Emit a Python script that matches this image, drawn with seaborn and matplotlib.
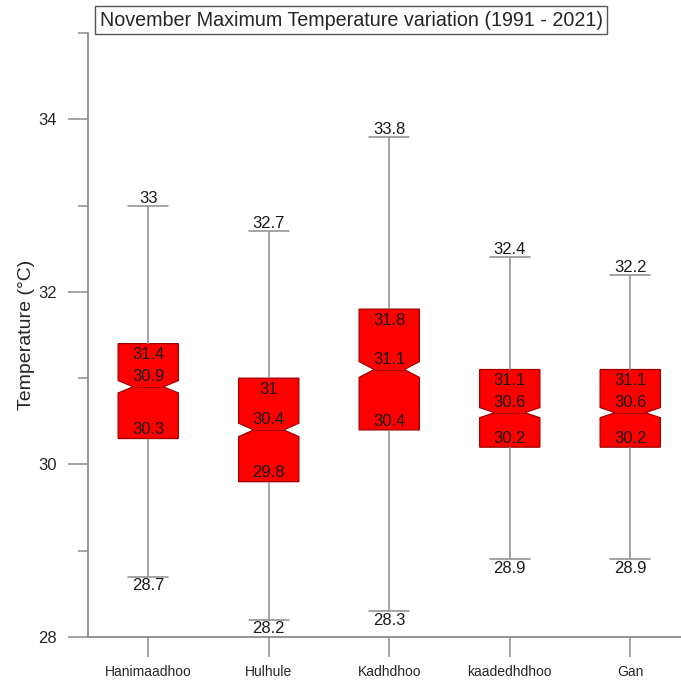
import numpy as np
import pandas as pd
import matplotlib
matplotlib.use("Agg")
import matplotlib.pyplot as plt
import seaborn as sns
from matplotlib.ticker import FixedLocator

# ---- values ----
stations = ["Hanimaadhoo", "Hulhule", "Kadhdhoo", "kaadedhdhoo", "Gan"]
t_min = [28.7, 28.2, 28.3, 28.9, 28.9]
t_q1 = [30.3, 29.8, 30.4, 30.2, 30.2]
t_median = [30.9, 30.4, 31.1, 30.6, 30.6]
t_q3 = [31.4, 31.0, 31.8, 31.1, 31.1]
t_max = [33.0, 32.7, 33.8, 32.4, 32.2]
y_ticks = [28, 30, 32, 34]
y_minor = [29, 31, 33, 35]
title = "November Maximum Temperature variation (1991 - 2021)"

# Each station is represented by its five-number summary; the quartile values
# are repeated so that the percentile estimates land exactly on them and the
# notch size resembles the original.
REPEATS = 193

rows = []
for s, lo, q1, md, q3, hi in zip(stations, t_min, t_q1, t_median, t_q3, t_max):
    vals = [lo] + [q1] * REPEATS + [md] * REPEATS + [q3] * REPEATS + [hi]
    rows += [(s, v) for v in vals]
df = pd.DataFrame(rows, columns=["station", "temp"])

sns.set_style("white")
plt.rcParams["font.family"] = ["Liberation Sans", "DejaVu Sans"]

fig = plt.figure(figsize=(6.81, 6.86), dpi=100)
ax = fig.add_axes([88 / 681, 49 / 686, 593 / 681, 604 / 686])

grey = "#8c8c8c"
common = dict(
    data=df, x="station", y="temp", order=stations,
    color="#ff0000", saturation=1, width=0.5, notch=True,
    whis=(0, 100), showfliers=False,
    boxprops=dict(edgecolor="#a00000", linewidth=0.9),
    medianprops=dict(color="#a00000", linewidth=0.6),
    whiskerprops=dict(color=grey, linewidth=1.1),
    capprops=dict(color=grey, linewidth=1.1),
)
try:
    sns.boxplot(ax=ax, capwidths=0.33, **common)
except TypeError:
    ax.cla()
    sns.boxplot(ax=ax, **common)

# value labels
lab_kw = dict(ha="center", fontsize=12, color="#1a1a1a",
              textcoords="offset points")
for i in range(len(stations)):
    ax.annotate(f"{t_max[i]:g}", (i, t_max[i]), xytext=(0, 0), va="bottom", **lab_kw)
    ax.annotate(f"{t_min[i]:g}", (i, t_min[i]), xytext=(0, -1), va="top", **lab_kw)
    ax.annotate(f"{t_q3[i]:g}", (i, t_q3[i]), xytext=(0, -2.5), va="top", **lab_kw)
    ax.annotate(f"{t_median[i]:g}", (i, t_median[i]), xytext=(0, 2), va="bottom", **lab_kw)
    ax.annotate(f"{t_q1[i]:g}", (i, t_q1[i]), xytext=(0, 1), va="bottom", **lab_kw)

ax.set_ylim(28, 35)
ax.set_xlim(-0.5, -0.5 + 593 / 120.5)
ax.yaxis.set_major_locator(FixedLocator(y_ticks))
ax.yaxis.set_minor_locator(FixedLocator(y_minor))
ax.set_yticklabels([str(t) for t in y_ticks])

for side in ["top", "right"]:
    ax.spines[side].set_visible(False)
for side in ["left", "bottom"]:
    ax.spines[side].set_color(grey)
    ax.spines[side].set_linewidth(1.3)

ax.tick_params(axis="y", which="major", direction="out", length=14.4,
               width=1.1, color=grey, labelsize=12, pad=8, left=True)
ax.tick_params(axis="y", which="minor", direction="out", length=7.2,
               width=1.1, color=grey, left=True)
ax.tick_params(axis="x", which="major", direction="out", length=14.4,
               width=1.1, color=grey, labelsize=10, pad=6, bottom=True)

ax.set_xlabel("")
ax.set_ylabel("Temperature (°C)", fontsize=14)
ax.yaxis.set_label_coords(-0.09, 0.5)
ax.grid(False)

fig.text(351 / 681, 1 - 20 / 686, title, ha="center", va="center", fontsize=14.2,
         bbox=dict(boxstyle="square,pad=0.25", facecolor="white",
                   edgecolor="#555555", linewidth=1))

fig.savefig("out.png", dpi=100, facecolor="white")
